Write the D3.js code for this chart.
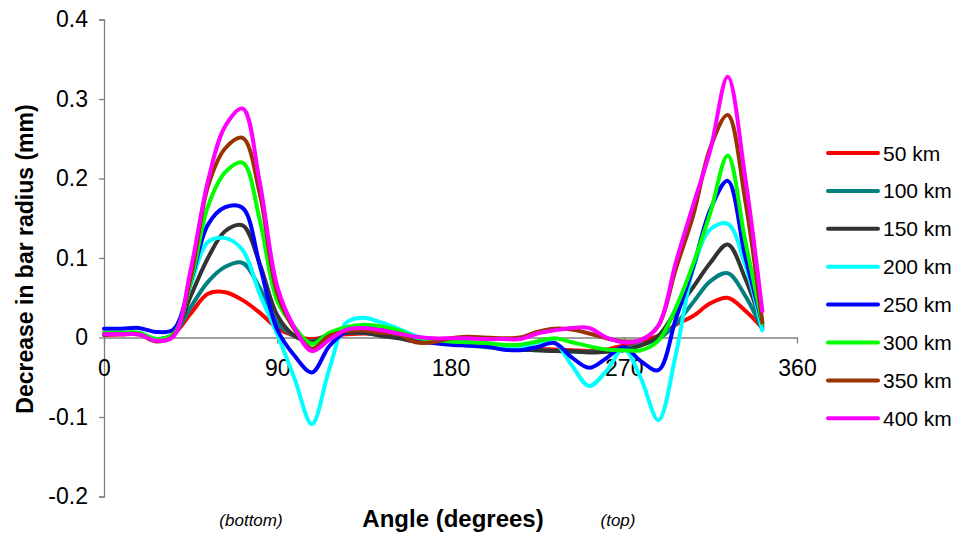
<!DOCTYPE html>
<html>
<head>
<meta charset="utf-8">
<script src="https://cdn.jsdelivr.net/npm/d3@7/dist/d3.min.js"></script>
<style>
  body { margin: 0; background: #fff; }
  svg { font-family: "Liberation Sans", Arial, sans-serif; }
</style>
</head>
<body>
<div id="chart"></div>
<script>
// angles every 9 degrees, 0 .. 342
var angles = d3.range(0, 343, 9);

var seriesNames = ["50 km", "100 km", "150 km", "200 km", "250 km", "300 km", "350 km", "400 km"];
var seriesColors = ["#ff0000", "#008080", "#333333", "#00ffff", "#0000ff", "#00ff00", "#993300", "#ff00ff"];

var km50 = [0.003, 0.004, 0.004, -0.002, 0.004, 0.030, 0.055, 0.057, 0.047, 0.031, 0.012, 0.002, -0.002,
  0.002, 0.004, 0.005, 0.004, 0.002, -0.002, -0.005, -0.006, -0.007, -0.009, -0.010, -0.012, -0.014,
  -0.015, -0.016, -0.017, -0.015, -0.010, -0.004, 0.002, 0.016, 0.027, 0.043, 0.050, 0.034, 0.012];
var km100 = [0.004, 0.005, 0.005, -0.002, 0.004, 0.038, 0.070, 0.089, 0.094, 0.062, 0.019, 0.002, -0.005,
  0.004, 0.006, 0.006, 0.003, 0.002, -0.004, -0.006, -0.008, -0.010, -0.012, -0.014, -0.015, -0.016,
  -0.017, -0.018, -0.018, -0.017, -0.014, -0.009, -0.002, 0.017, 0.044, 0.071, 0.081, 0.053, 0.010];
var km150 = [0.004, 0.005, 0.005, -0.003, 0.004, 0.052, 0.100, 0.134, 0.141, 0.092, 0.028, 0.002, -0.006,
  0.004, 0.006, 0.006, 0.002, -0.001, -0.005, -0.006, -0.007, -0.009, -0.011, -0.013, -0.015, -0.016,
  -0.017, -0.017, -0.019, -0.018, -0.016, -0.010, 0.002, 0.033, 0.063, 0.094, 0.117, 0.075, 0.015];
var km200 = [0.005, 0.005, 0.006, -0.002, 0.004, 0.066, 0.120, 0.125, 0.110, 0.054, 0.004, -0.052, -0.109,
  -0.040, 0.019, 0.025, 0.019, 0.011, 0.002, -0.002, -0.003, -0.005, -0.009, -0.012, -0.014, -0.006,
  -0.006, -0.035, -0.061, -0.042, -0.014, -0.052, -0.104, -0.022, 0.086, 0.136, 0.143, 0.092, 0.009];
var km250 = [0.011, 0.011, 0.012, 0.007, 0.010, 0.070, 0.142, 0.164, 0.163, 0.090, 0.010, -0.023, -0.044,
  -0.011, 0.008, 0.013, 0.011, 0.005, -0.004, -0.007, -0.009, -0.010, -0.011, -0.015, -0.016, -0.012,
  -0.007, -0.025, -0.038, -0.026, -0.012, -0.030, -0.041, 0.023, 0.088, 0.161, 0.197, 0.103, 0.018];
var km300 = [0.006, 0.006, 0.006, -0.002, 0.004, 0.070, 0.165, 0.208, 0.220, 0.147, 0.046, 0.013, -0.008,
  0.006, 0.013, 0.016, 0.014, 0.009, 0.000, -0.003, -0.005, -0.006, -0.007, -0.009, -0.009, -0.005,
  -0.001, -0.006, -0.011, -0.015, -0.016, -0.016, -0.004, 0.037, 0.092, 0.157, 0.229, 0.123, 0.018];
var km350 = [0.004, 0.004, 0.004, -0.005, 0.002, 0.075, 0.190, 0.238, 0.251, 0.180, 0.056, 0.010, -0.014,
  0.002, 0.008, 0.009, 0.006, 0.004, -0.006, -0.006, -0.001, 0.001, 0.000, -0.001, 0.000, 0.007,
  0.011, 0.010, 0.005, -0.001, -0.005, -0.003, 0.015, 0.086, 0.153, 0.239, 0.280, 0.174, 0.019];
var km400 = [0.004, 0.004, 0.004, -0.004, 0.001, 0.085, 0.197, 0.266, 0.288, 0.194, 0.064, 0.012, -0.017,
  -0.003, 0.010, 0.012, 0.009, 0.005, 0.001, -0.001, -0.001, -0.001, -0.002, -0.002, -0.002, 0.005,
  0.009, 0.012, 0.012, 0.000, -0.006, -0.003, 0.015, 0.094, 0.166, 0.236, 0.328, 0.203, 0.033];

var seriesValues = [km50, km100, km150, km200, km250, km300, km350, km400];

var xTicks = [0, 90, 180, 270, 360];
var yTicks = [-0.2, -0.1, 0, 0.1, 0.2, 0.3, 0.4];

// size settings
var tot_width = 956, tot_height = 533;
var svg = d3.select("#chart").append("svg")
    .attr("width", tot_width).attr("height", tot_height);

var x = d3.scaleLinear().domain([0, 360]).range([104, 797]);
var y = d3.scaleLinear().domain([-0.2, 0.4]).range([496.5, 19.5]);

// y axis
var yAxis = svg.append("g")
    .attr("transform", "translate(" + x(0) + ",0)")
    .call(d3.axisLeft(y).tickValues(yTicks).tickSize(5).tickPadding(11)
      .tickFormat(function(d) { return d === 0 ? "0" : d.toFixed(1); }));
yAxis.select(".domain").attr("stroke", "#808080").attr("stroke-width", 1.3);
yAxis.selectAll(".tick line").attr("stroke", "#808080").attr("stroke-width", 1.3);
yAxis.selectAll("text").attr("font-size", 23).attr("fill", "#000")
    .style("font-family", "'Liberation Sans', Arial, sans-serif");

// x axis sits on the zero line
var xAxis = svg.append("g")
    .attr("transform", "translate(0," + y(0) + ")")
    .call(d3.axisBottom(x).tickValues(xTicks).tickSize(6).tickPadding(16).tickSizeOuter(0));
xAxis.select(".domain").attr("stroke", "#808080").attr("stroke-width", 1.3);
xAxis.selectAll(".tick line").attr("stroke", "#808080").attr("stroke-width", 1.3);
xAxis.selectAll("text").attr("font-size", 23).attr("fill", "#000")
    .style("font-family", "'Liberation Sans', Arial, sans-serif");

// lines
var line = d3.line()
    .x(function(d) { return x(d[0]); })
    .y(function(d) { return y(d[1]); })
    .curve(d3.curveCatmullRom);

seriesValues.forEach(function(vals, i) {
  svg.append("path")
    .datum(angles.map(function(a, j) { return [a, vals[j]]; }))
    .attr("fill", "none")
    .attr("stroke", seriesColors[i])
    .attr("stroke-width", 4)
    .attr("stroke-linejoin", "round")
    .attr("stroke-linecap", "round")
    .attr("d", line);
});

// legend
var legend = svg.append("g").attr("transform", "translate(828,153)");
seriesNames.forEach(function(name, i) {
  var row = legend.append("g").attr("transform", "translate(0," + (i * 37.9) + ")");
  row.append("line").attr("x1", 0).attr("x2", 50).attr("y1", 0).attr("y2", 0)
    .attr("stroke", seriesColors[i]).attr("stroke-width", 4).attr("stroke-linecap", "round");
  row.append("text").attr("x", 55).attr("y", 0).attr("dy", "0.36em")
    .attr("font-size", 21).text(name);
});

// titles
svg.append("text")
    .attr("transform", "translate(33,259) rotate(-90)")
    .attr("text-anchor", "middle")
    .attr("font-size", 23).attr("font-weight", "bold")
    .text("Decrease in bar radius (mm)");

svg.append("text")
    .attr("x", 453).attr("y", 527)
    .attr("text-anchor", "middle")
    .attr("font-size", 24).attr("font-weight", "bold")
    .text("Angle (degrees)");

svg.append("text")
    .attr("x", 251).attr("y", 526)
    .attr("text-anchor", "middle")
    .attr("font-size", 17).attr("font-style", "italic")
    .text("(bottom)");

svg.append("text")
    .attr("x", 618).attr("y", 526)
    .attr("text-anchor", "middle")
    .attr("font-size", 17).attr("font-style", "italic")
    .text("(top)");
</script>
</body>
</html>
